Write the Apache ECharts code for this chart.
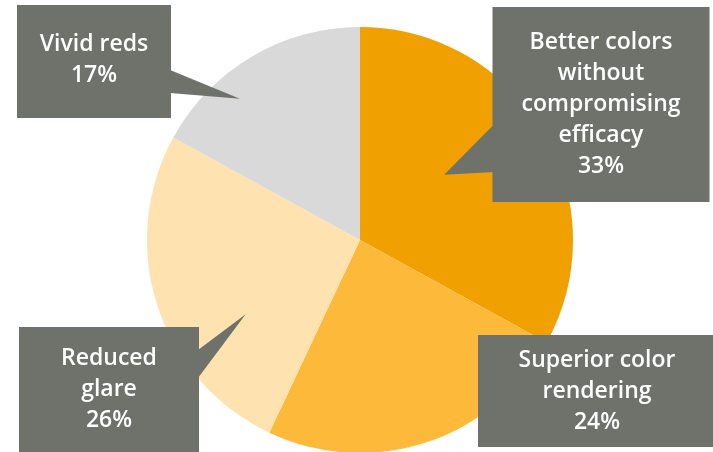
<!DOCTYPE html>
<html>
<head>
<meta charset="utf-8">
<script src="https://cdn.jsdelivr.net/npm/echarts@6/dist/echarts.min.js"></script>
<style>
  html, body { margin: 0; padding: 0; background: #ffffff; }
  #chart { width: 713px; height: 452px; }
</style>
</head>
<body>
<div id="chart"></div>
<script>
// Survey shares, clockwise from 12 o'clock
const categories = [
  'Better colors\nwithout\ncompromising\nefficacy',
  'Superior color\nrendering',
  'Reduced\nglare',
  'Vivid reds'
];
const shares = [33, 24, 26, 17];
const sliceColors = ['#F0A000', '#FDBA3A', '#FEE3B0', '#D9D9D9'];

const CENTER = [360, 240];
const RADIUS = 213;
const BOX_COLOR = '#6F716B';

// Callout boxes: centre x, top y, width, vertical padding; optional pointer
// (box edge it leaves from, y-range of its base, position of tip inside the slice)
const callouts = [
  { cx: 601, top: 7,   w: 217, pt: 20, pb: 20, side: 'left',  base: [125, 172], tipT: 0.44, tipR: 0.50 },
  { cx: 597, top: 335, w: 238, pt: 10, pb: 9 },
  { cx: 109, top: 327, w: 180, pt: 16, pb: 16, side: 'right', base: [350, 378], tipT: 0.34, tipR: 0.64 },
  { cx: 94,  top: 5,   w: 154, pt: 24, pb: 27, side: 'right', base: [70, 93],   tipT: 0.34, tipR: 0.87 }
];

const total = shares.reduce((a, b) => a + b, 0);

// Pointer triangles, tip placed inside the matching slice
const pointers = [];
let acc = 0;
shares.forEach((v, i) => {
  const c = callouts[i];
  const start = acc / total;
  const span = v / total;
  acc += v;
  if (!c.side) return;
  const theta = (start + c.tipT * span) * 2 * Math.PI;
  const r = c.tipR * RADIUS;
  const tip = [CENTER[0] + r * Math.sin(theta), CENTER[1] - r * Math.cos(theta)];
  const edgeX = c.side === 'left' ? c.cx - c.w / 2 + 1 : c.cx + c.w / 2 - 1;
  pointers.push({
    type: 'polygon',
    z: 100,
    silent: true,
    shape: { points: [[edgeX, c.base[0]], tip, [edgeX, c.base[1]]] },
    style: { fill: BOX_COLOR }
  });
});

const pieData = categories.map((name, i) => ({
  name: name,
  value: shares[i],
  itemStyle: { color: sliceColors[i] },
  label: {
    width: callouts[i].w,
    padding: [callouts[i].pt, 0, callouts[i].pb, 0]
  }
}));

const chart = echarts.init(document.getElementById('chart'), null, { renderer: 'canvas' });
chart.setOption({
  animation: false,
  backgroundColor: '#ffffff',
  graphic: pointers,
  series: [{
    type: 'pie',
    center: CENTER,
    radius: RADIUS,
    startAngle: 90,
    clockwise: true,
    silent: true,
    emphasis: { disabled: true },
    itemStyle: { borderWidth: 0 },
    label: {
      show: true,
      position: 'inside',
      overflow: 'none',
      formatter: '{b}\n{c}%',
      color: '#ffffff',
      fontFamily: 'Open Sans',
      fontWeight: 600,
      fontSize: 23,
      lineHeight: 31,
      align: 'center',
      backgroundColor: BOX_COLOR
    },
    labelLine: { show: false },
    labelLayout: function (params) {
      const c = callouts[params.dataIndex];
      return { x: c.cx, y: c.top, align: 'center', verticalAlign: 'top' };
    },
    data: pieData
  }]
});
</script>
</body>
</html>
